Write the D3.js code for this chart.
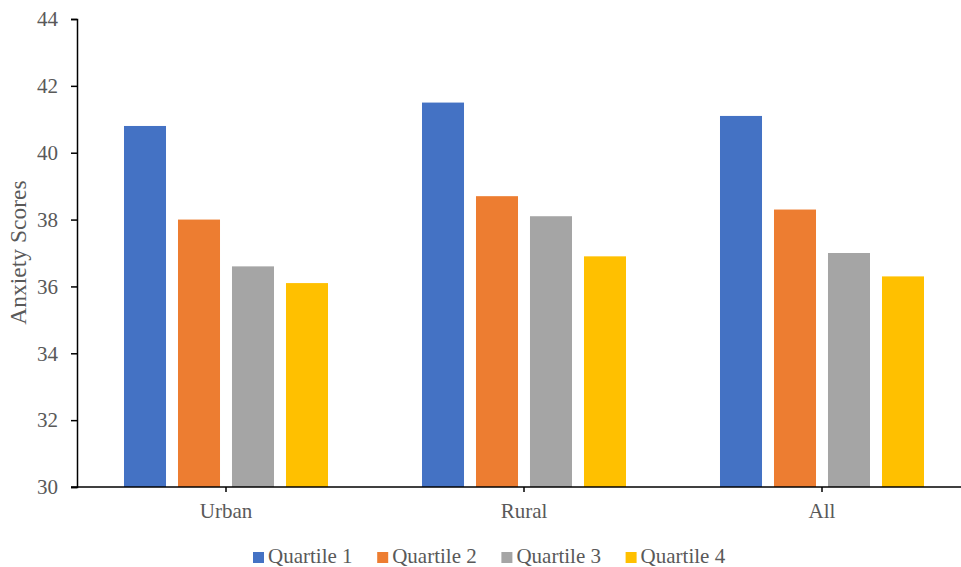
<!DOCTYPE html>
<html>
<head>
<meta charset="utf-8">
<script src="https://cdn.jsdelivr.net/npm/d3@7"></script>
<style>
  html, body { margin: 0; padding: 0; background: #fff; }
  svg { display: block; font-family: "Liberation Serif", "Times New Roman", serif; }
  svg text { font-family: "Liberation Serif", "Times New Roman", serif; fill: #595959; }
</style>
</head>
<body>
<svg id="chart" width="961" height="567"></svg>
<script>
// Anxiety scores by residence and quartile
const categories = ["Urban", "Rural", "All"];
const seriesNames = ["Quartile 1", "Quartile 2", "Quartile 3", "Quartile 4"];
const quartile1 = [40.8, 41.5, 41.1];
const quartile2 = [38.0, 38.7, 38.3];
const quartile3 = [36.6, 38.1, 37.0];
const quartile4 = [36.1, 36.9, 36.3];
const yTicks = [30, 32, 34, 36, 38, 40, 42, 44];
const colors = ["#4472C4", "#ED7D31", "#A5A5A5", "#FFC000"];

const seriesValues = [quartile1, quartile2, quartile3, quartile4];
const serif = "'Liberation Serif', 'Times New Roman', serif";

const svg = d3.select("#chart");
const plotLeft = 77, plotRight = 971, plotTop = 19, plotBottom = 487;

const y = d3.scaleLinear().domain([30, 44]).range([plotBottom, plotTop]);

const x0 = d3.scaleBand().domain(categories).range([plotLeft, plotRight])
  .paddingInner(0.3154).paddingOuter(0.3154 / 2);
const x1 = d3.scaleBand().domain(seriesNames).range([0, x0.bandwidth()])
  .paddingInner(0.222).paddingOuter(0);
const color = d3.scaleOrdinal().domain(seriesNames).range(colors);

// Bars
const groups = svg.append("g").selectAll("g")
  .data(categories)
  .join("g")
  .attr("transform", d => `translate(${x0(d)},0)`);

groups.selectAll("rect")
  .data((c, ci) => seriesNames.map((s, si) => ({ series: s, value: seriesValues[si][ci] })))
  .join("rect")
  .attr("x", d => x1(d.series))
  .attr("width", x1.bandwidth())
  .attr("y", d => y(d.value))
  .attr("height", d => y(30) - y(d.value))
  .attr("fill", d => color(d.series));

// Y axis
const yAxis = svg.append("g")
  .attr("transform", `translate(${plotLeft},0)`)
  .call(d3.axisLeft(y).tickValues(yTicks).tickSize(6).tickPadding(13).tickFormat(d3.format("d")))
  .attr("font-family", serif);
yAxis.select(".domain").attr("stroke", "#000").attr("stroke-width", 1.5);
yAxis.selectAll(".tick line").attr("stroke", "#000").attr("stroke-width", 1.5);
yAxis.selectAll(".tick text").style("font-size", "21px").attr("fill", "#595959")
  .style("font-family", serif);

// X axis
const xCenter = d3.scalePoint().domain(categories)
  .range([x0("Urban") + x0.bandwidth() / 2, x0("All") + x0.bandwidth() / 2]);
const xAxis = svg.append("g")
  .attr("transform", `translate(0,${plotBottom})`);
xAxis.append("line")
  .attr("x1", plotLeft - 6).attr("x2", plotRight)
  .attr("stroke", "#000").attr("stroke-width", 1.5);
xAxis.selectAll(".xtick")
  .data(categories)
  .join("line")
  .attr("class", "xtick")
  .attr("x1", d => xCenter(d)).attr("x2", d => xCenter(d))
  .attr("y1", 0).attr("y2", 5)
  .attr("stroke", "#000").attr("stroke-width", 1.5);
xAxis.selectAll(".xlabel")
  .data(categories)
  .join("text")
  .attr("class", "xlabel")
  .attr("x", d => xCenter(d))
  .attr("y", 31)
  .attr("text-anchor", "middle")
  .style("font-size", "21px")
  .style("font-family", serif)
  .text(d => d);

// Y axis title
svg.append("text")
  .attr("transform", `translate(26,252.5) rotate(-90)`)
  .attr("text-anchor", "middle")
  .style("font-size", "23.5px")
  .style("font-family", serif)
  .text("Anxiety Scores");

// Legend
const legend = svg.append("g").attr("transform", "translate(253,552)");
const item = legend.selectAll("g")
  .data(seriesNames)
  .join("g")
  .attr("transform", (d, i) => `translate(${i * 124.2},0)`);
item.append("rect")
  .attr("width", 11).attr("height", 11)
  .attr("fill", d => color(d));
item.append("text")
  .attr("x", 15).attr("y", 11)
  .style("font-size", "21px")
  .style("font-family", serif)
  .text(d => d);
</script>
</body>
</html>
